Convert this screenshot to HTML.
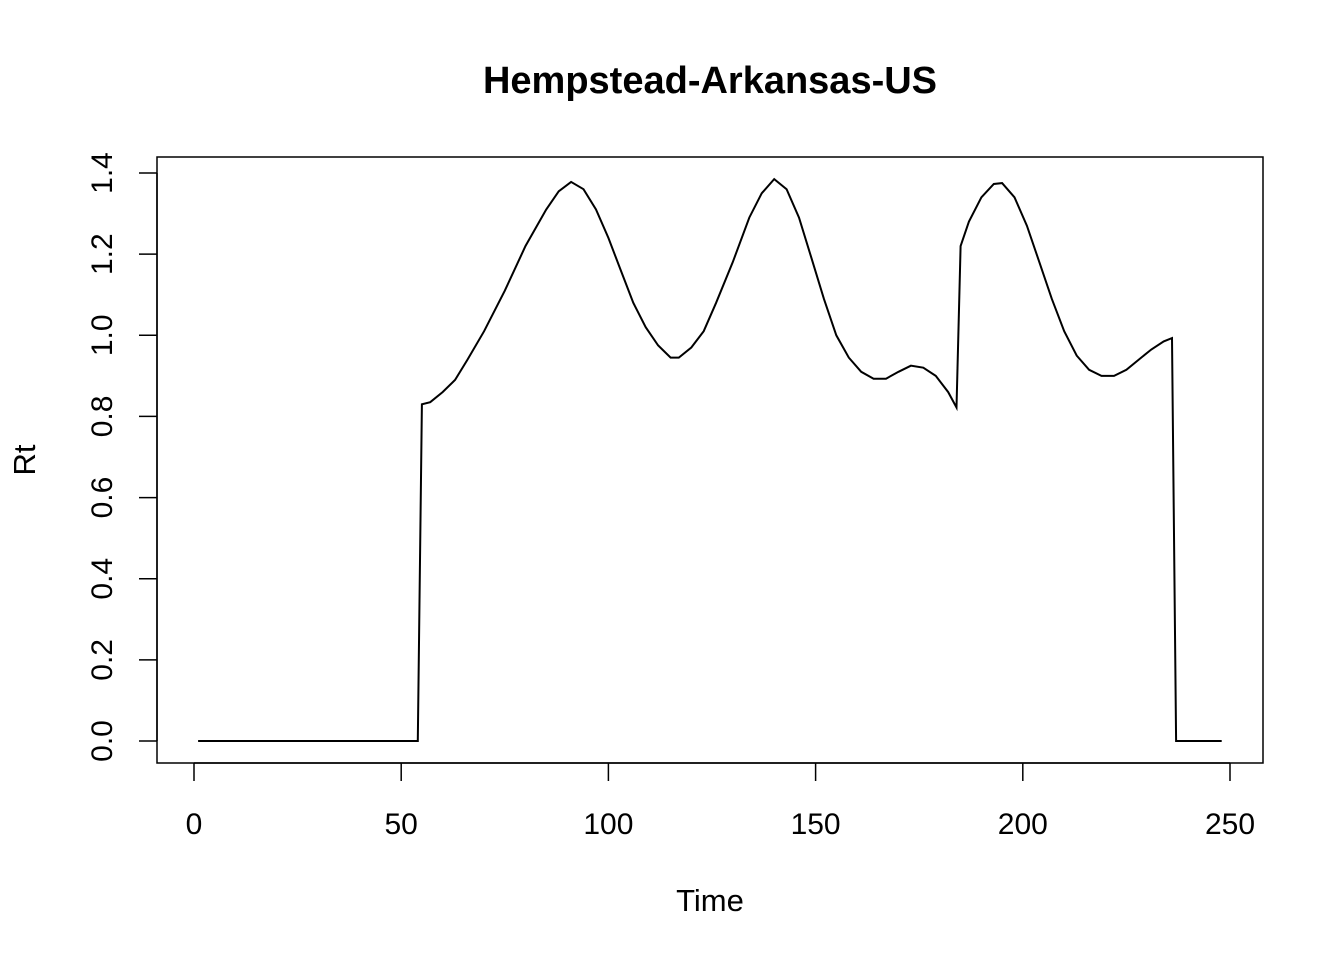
<!DOCTYPE html>
<html><head><meta charset="utf-8"><style>
body{margin:0;background:#fff;}
svg text{font-family:"Liberation Sans",Arial,sans-serif;}
</style></head><body>
<svg id="chart" width="1344" height="960" xmlns="http://www.w3.org/2000/svg">
<rect width="1344" height="960" fill="#fff"/>
<text x="710" y="93" text-anchor="middle" font-size="38" font-weight="bold">Hempstead-Arkansas-US</text>
<rect x="157" y="157" width="1106" height="606" fill="none" stroke="#000" stroke-width="1.5"/>
<text x="710" y="911" text-anchor="middle" font-size="31">Time</text>
<text transform="translate(35,460) rotate(-90)" text-anchor="middle" font-size="31">Rt</text>
<g id="axes"></g>
<path id="line" fill="none" stroke="#000" stroke-width="2"/>
</svg>
<script>
const times=[1,54,55,57,60,63,66,70,75,80,85,88,91,94,97,100,103,106,109,112,115,117,120,123,126,130,134,137,140,143,146,149,152,155,158,161,164,167,170,173,176,179,182,184,185,187,190,193,195,198,201,204,207,210,213,216,219,222,225,228,231,234,236,237,248];
const rtValues=[0,0,0.83,0.835,0.86,0.89,0.94,1.01,1.11,1.22,1.31,1.355,1.378,1.36,1.31,1.24,1.16,1.08,1.02,0.975,0.945,0.945,0.97,1.01,1.08,1.18,1.29,1.35,1.385,1.36,1.29,1.19,1.09,1.0,0.945,0.91,0.893,0.893,0.91,0.925,0.92,0.9,0.86,0.822,1.22,1.28,1.34,1.373,1.375,1.34,1.27,1.18,1.09,1.01,0.95,0.915,0.9,0.9,0.915,0.94,0.965,0.985,0.993,0,0];
const xTicks=[0,50,100,150,200,250];
const yTicks=[0,0.2,0.4,0.6,0.8,1.0,1.2,1.4];
const yTickLabels=["0.0","0.2","0.4","0.6","0.8","1.0","1.2","1.4"];
const X=t=>194+t*(1230-194)/250;
const Y=v=>741-v*(741-173)/1.4;
const NS="http://www.w3.org/2000/svg";
const axes=document.getElementById('axes');
function mk(tag,attrs,txt){const e=document.createElementNS(NS,tag);for(const k in attrs)e.setAttribute(k,attrs[k]);if(txt!==undefined)e.textContent=txt;axes.appendChild(e);return e;}
let xl=mk('line',{x1:X(0),x2:X(250),y1:763,y2:763,stroke:'#000','stroke-width':1.5});


xTicks.forEach(t=>{
 let l=mk('line',{x1:X(t),x2:X(t),y1:763,y2:781,stroke:'#000','stroke-width':1.5});
 
 
 let tx=mk('text',{x:X(t),y:834,'text-anchor':'middle','font-size':30},String(t));
 
 
});
let yl=mk('line',{x1:157,x2:157,y1:Y(0),y2:Y(1.4),stroke:'#000','stroke-width':1.5});


yTicks.forEach((v,i)=>{
 let l=mk('line',{x1:139,x2:157,y1:Y(v),y2:Y(v),stroke:'#000','stroke-width':1.5});
 
 
 let tx=mk('text',{x:0,y:0,'text-anchor':'middle','font-size':30,transform:`translate(112,${Y(v)}) rotate(-90)`},yTickLabels[i]);
 
 
});
document.getElementById('line').setAttribute('d',times.map((t,i)=>(i?'L':'M')+X(t).toFixed(1)+','+Y(rtValues[i]).toFixed(1)).join(''));
</script>
</body></html>
